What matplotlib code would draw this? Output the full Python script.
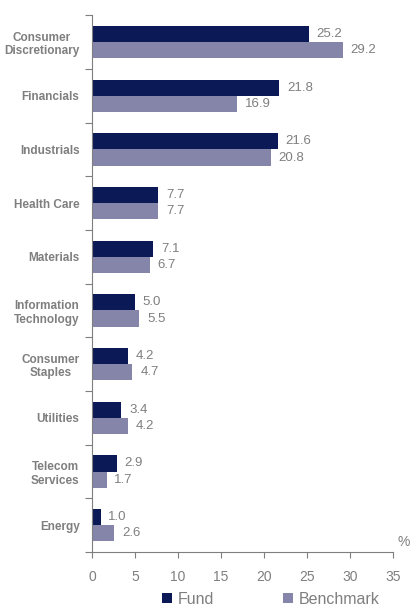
import matplotlib.pyplot as plt
import numpy as np

plt.rcParams['font.family'] = ['Liberation Sans', 'DejaVu Sans']

sectors = ["Consumer\nDiscretionary", "Financials", "Industrials", "Health Care",
           "Materials", "Information\nTechnology", "Consumer\nStaples", "Utilities",
           "Telecom\nServices", "Energy"]
fund = [25.2, 21.8, 21.6, 7.7, 7.1, 5.0, 4.2, 3.4, 2.9, 1.0]
benchmark = [29.2, 16.9, 20.8, 7.7, 6.7, 5.5, 4.7, 4.2, 1.7, 2.6]

fund_color = "#0b1a56"
bench_color = "#8585a9"
grey = "#7f7f7f"

fig = plt.figure(figsize=(4.11, 6.10), dpi=100)
ax = fig.add_axes([0.224, 0.095, 0.732, 0.88])

n = len(sectors)
y = np.arange(n)
h = 0.3
ax.barh(y - h / 2, fund, height=h, color=fund_color, label="Fund")
ax.barh(y + h / 2, benchmark, height=h, color=bench_color, label="Benchmark")

for i in range(n):
    ax.text(fund[i] + 0.9, y[i] - h / 2, f"{fund[i]:.1f}", va="center", ha="left",
            color=grey, fontsize=9.5)
    ax.text(benchmark[i] + 0.9, y[i] + h / 2, f"{benchmark[i]:.1f}", va="center", ha="left",
            color=grey, fontsize=9.5)

ax.set_ylim(n - 0.5, -0.5)
ax.set_xlim(0, 35)
ax.set_xticks(np.arange(0, 36, 5))
ax.set_yticks(np.arange(-0.5, n, 1))
ax.set_yticklabels([])
ax.set_yticks(y, minor=True)
ax.set_yticklabels(sectors, minor=True, fontsize=8.5, color=grey, fontweight="bold",
                   ha="right", multialignment="center")
ax.tick_params(axis="y", which="minor", length=0, pad=9)
ax.tick_params(axis="y", which="major", length=5, color=grey, direction="out")
ax.tick_params(axis="x", length=4, color=grey, labelcolor=grey, labelsize=10, pad=9)

for s in ["top", "right"]:
    ax.spines[s].set_visible(False)
for s in ["left", "bottom"]:
    ax.spines[s].set_color(grey)

ax.text(1.015, 0.005, "%", transform=ax.transAxes, color=grey, fontsize=10,
        ha="left", va="bottom")

fig.legend(loc="lower left", bbox_to_anchor=(0.366, -0.013), ncol=2, frameon=False,
           fontsize=11.5, labelcolor=grey, handlelength=0.65, handleheight=0.65,
           handletextpad=0.35, columnspacing=4.3, borderpad=0.2)

fig.savefig("out.png", dpi=100)
